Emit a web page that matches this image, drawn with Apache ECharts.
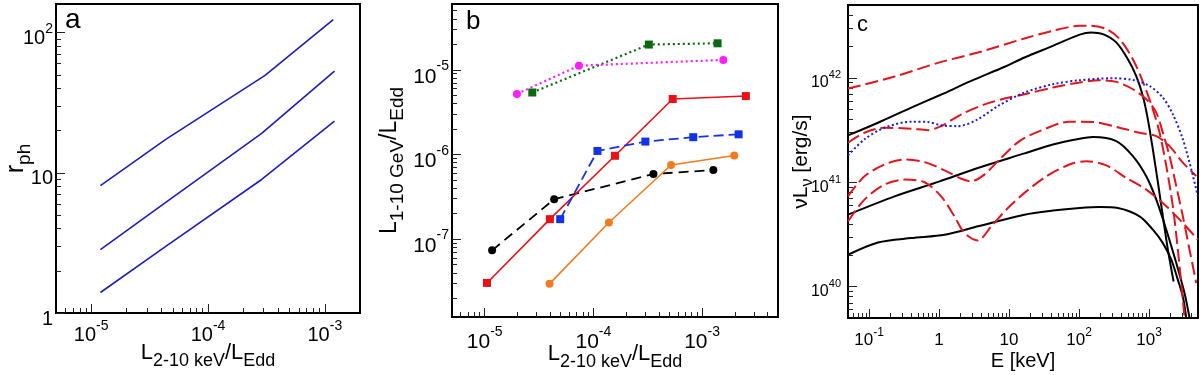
<!DOCTYPE html>
<html>
<head>
<meta charset="utf-8">
<script src="https://cdn.jsdelivr.net/npm/echarts@6/dist/echarts.min.js"></script>
<style>
html, body { margin: 0; padding: 0; background: #fff; }
#main { width: 1200px; height: 375px; }
</style>
</head>
<body>
<div id="main"></div>
<script>
// panel a - photosphere radius vs L(2-10 keV)/LEdd
var aLine1 = [[1.2e-5, 8.1], [4.35e-5, 17.3], [3.08e-4, 49.5], [1.18e-3, 124]];
var aLine2 = [[1.2e-5, 2.83], [4.35e-5, 6.15], [2.88e-4, 19.1], [1.21e-3, 53.2]];
var aLine3 = [[1.2e-5, 1.40], [4.35e-5, 2.99], [2.88e-4, 8.96], [1.21e-3, 23.4]];
var aXTicks = [1e-5, 1e-4, 1e-3];
var aYTicks = [1, 10, 100];

// panel b - gamma-ray vs X-ray luminosity
var bMagenta = [[1.98e-5, 5.2e-6], [7.36e-5, 1.12e-5], [1.57e-3, 1.31e-5]];
var bGreen = [[2.74e-5, 5.4e-6], [3.24e-4, 1.99e-5], [1.39e-3, 2.06e-5]];
var bRed = [[1.05e-5, 3.03e-8], [3.98e-5, 1.72e-7], [1.58e-4, 9.65e-7], [5.37e-4, 4.52e-6], [2.53e-3, 4.9e-6]];
var bBlue = [[4.95e-5, 1.72e-7], [1.09e-4, 1.10e-6], [3.01e-4, 1.42e-6], [8.3e-4, 1.60e-6], [2.17e-3, 1.73e-6]];
var bBlack = [[1.17e-5, 7.36e-8], [4.36e-5, 2.96e-7], [3.57e-4, 5.87e-7], [1.27e-3, 6.55e-7]];
var bOrange = [[3.95e-5, 2.96e-8], [1.39e-4, 1.57e-7], [5.19e-4, 7.5e-7], [1.98e-3, 9.73e-7]];
var bXTicks = [1e-5, 1e-4, 1e-3];
var bYTicks = [1e-7, 1e-6, 1e-5];

// panel c - spectra, E [keV] vs nuL_nu [erg/s]
var cBlack1 = [[0.05, 2.81e41], [0.134, 3.72e41], [0.401, 5.19e41], [1.02, 6.82e41], [2.88, 9.36e41], [8.63, 1.28e42], [16.6, 1.57e42], [42.3, 2.03e42], [102, 2.6e42], [149, 2.73e42], [219, 2.63e42], [340, 2.19e42], [498, 1.51e42], [656, 1.04e42], [815, 6.71e41], [961, 4.01e41], [1133, 2.06e41], [1339, 9.9e40], [1575, 4.7e40], [1858, 2.25e40], [2240, 1.12e40]];
var cBlack2 = [[0.05, 4.89e40], [0.231, 7.33e40], [1.02, 1.02e41], [3.58, 1.37e41], [16.6, 1.89e41], [42.3, 2.3e41], [102, 2.61e41], [157, 2.71e41], [340, 2.48e41], [587, 1.78e41], [912, 1.14e41], [1268, 6.82e40], [1762, 3.51e40], [2447, 1.68e40], [3214, 8.65e39], [3790, 5.0e39]];
var cBlack3 = [[0.05, 2.02e40], [0.134, 2.65e40], [0.401, 2.92e40], [1.2, 3.14e40], [3.58, 3.78e40], [16.6, 4.89e40], [42.3, 5.35e40], [102, 5.67e40], [196, 5.8e40], [358, 5.67e40], [731, 4.71e40], [1133, 3.51e40], [1575, 2.61e40], [2075, 1.81e40], [2579, 1.16e40], [3041, 8.0e39], [3396, 5.0e39]];
var cRed1 = [[0.05, 7.91e41], [0.231, 1.03e42], [1.02, 1.41e42], [3.58, 1.75e42], [16.6, 2.39e42], [42.3, 2.83e42], [102, 3.16e42], [149, 3.16e42], [245, 2.94e42], [379, 2.36e42], [587, 1.51e42], [862, 8.38e41], [1133, 5.0e41], [1414, 2.98e41], [1762, 1.43e41], [2188, 5.88e40], [2579, 2.25e40], [3041, 7.45e39], [3214, 5.0e39]];
var cRed2 = [[0.05, 2.39e41], [0.086, 2.98e41], [0.166, 3.33e41], [0.401, 3.26e41], [0.692, 3.16e41], [1.07, 3.45e41], [2.08, 4.48e41], [4.47, 5.58e41], [8.63, 6.34e41], [16.6, 6.97e41], [42.3, 8.09e41], [102, 9.04e41], [196, 9.5e41], [340, 9.16e41], [587, 7.79e41], [912, 6.24e41], [1268, 4.65e41], [1575, 2.98e41], [1963, 1.78e41], [2447, 9.16e40], [3041, 4.71e40], [3790, 2.25e40], [4722, 1.08e40]];
var cRed3 = [[0.05, 7.33e40], [0.086, 1.14e41], [0.166, 1.48e41], [0.321, 1.65e41], [0.621, 1.56e41], [1.2, 1.30e41], [2.08, 1.08e41], [2.88, 1.02e41], [4.47, 1.19e41], [7.74, 1.72e41], [14.1, 2.48e41], [27.3, 3.09e41], [73.1, 3.81e41], [157, 3.78e41], [379, 3.33e41], [731, 2.98e41], [1268, 2.77e41], [1963, 2.22e41], [3041, 1.54e41], [4722, 1.15e41]];
var cRed4 = [[0.05, 4.22e40], [0.086, 6.82e40], [0.166, 9.5e40], [0.321, 1.06e41], [0.621, 1.0e41], [1.07, 7.33e40], [1.66, 4.71e40], [2.31, 3.26e40], [3.58, 2.77e40], [5.57, 3.78e40], [9.62, 5.67e40], [16.6, 7.91e40], [34, 1.14e41], [73.1, 1.48e41], [127, 1.59e41], [245, 1.45e41], [472, 1.10e41], [912, 8.51e40], [1762, 5.88e40], [3041, 4.07e40], [4977, 2.81e40]];
var cBlue = [[0.05, 1.81e41], [0.086, 2.58e41], [0.166, 3.33e41], [0.401, 3.81e41], [0.692, 3.78e41], [1.07, 3.51e41], [1.86, 3.45e41], [3.58, 4.01e41], [6.92, 5.38e41], [16.6, 7.24e41], [42.3, 8.7e41], [102, 9.5e41], [304, 9.93e41], [587, 9.57e41], [1016, 8.38e41], [1575, 6.48e41], [2188, 4.48e41], [3041, 2.58e41], [4008, 1.33e41], [4977, 7.33e40]];
var cXTicks = [0.1, 1, 10, 100, 1000];
var cYTicks = [1e40, 1e41, 1e42];

var FONT = '"Liberation Sans", Arial, Helvetica, sans-serif';

// 2..9 x 10^n inside the range
function minorTicks(min, max) {
	var out = [];
	var e0 = Math.floor(Math.log10(min)), e1 = Math.ceil(Math.log10(max));
	for (var e = e0; e <= e1; e++) {
		for (var k = 2; k <= 9; k++) {
			var v = k * Math.pow(10, e);
			if (v > min * 1.0001 && v < max * 0.9999) out.push(v);
		}
	}
	return out;
}

function supLabel(v) {
	var e = Math.round(Math.log10(v));
	if (e === 0) return '{b|1}';
	if (e === 1) return '{b|10}';
	return '{b|10}{s|' + e + '}';
}

function labelRich(size) {
	var s = Math.round(size * 0.68);
	return {
		b: {fontFamily: FONT, fontSize: size, lineHeight: size, padding: [Math.round(size * 0.32), 0, 0, 0], verticalAlign: 'top', color: '#000'},
		s: {fontFamily: FONT, fontSize: s, lineHeight: s, verticalAlign: 'top', color: '#000'}
	};
}

function nameRich(size, sub) {
	return {
		m: {fontFamily: FONT, fontSize: size, lineHeight: size, verticalAlign: 'top', color: '#000'},
		s: {fontFamily: FONT, fontSize: sub, lineHeight: sub, padding: [Math.round(size * 0.45), 0, 0, 0], verticalAlign: 'top', color: '#000'}
	};
}

// major axis (labels + long ticks) and a twin for the short minor ticks
function logAxes(p) {
	var major = {
		type: 'log', logBase: 10, gridIndex: p.grid, position: p.pos, min: p.min, max: p.max,
		axisLine: {show: false},
		splitLine: {show: false},
		axisTick: {inside: true, length: 9, customValues: p.ticks, lineStyle: {color: '#222', width: 1}},
		axisLabel: {customValues: p.ticks, formatter: supLabel, margin: p.margin, rich: labelRich(p.size)},
		name: p.name,
		nameLocation: 'middle',
		nameGap: p.gap,
		nameMoveOverlap: false,
		nameTextStyle: {rich: nameRich(p.nameSize, p.subSize)}
	};
	var minor = {
		type: 'log', logBase: 10, gridIndex: p.grid, position: p.pos, min: p.min, max: p.max,
		axisLine: {show: false},
		splitLine: {show: false},
		axisLabel: {show: false},
		axisTick: {inside: true, length: 5, customValues: minorTicks(p.min, p.max), lineStyle: {color: '#222', width: 1}}
	};
	return [major, minor];
}

var xAxes = [].concat(
	logAxes({grid: 0, pos: 'bottom', min: 5e-6, max: 2e-3, ticks: aXTicks, size: 20, margin: 6,
		name: '{m|L}{s|2-10 keV}{m|/L}{s|Edd}', gap: 29, nameSize: 22, subSize: 18}),
	logAxes({grid: 1, pos: 'bottom', min: 5e-6, max: 5e-3, ticks: bXTicks, size: 21, margin: 8,
		name: '{m|L}{s|2-10 keV}{m|/L}{s|Edd}', gap: 26, nameSize: 22, subSize: 18}),
	logAxes({grid: 2, pos: 'bottom', min: 0.05, max: 5000, ticks: cXTicks, size: 17, margin: 9,
		name: '{m|E [keV]}', gap: 33, nameSize: 20, subSize: 16})
);
var yAxes = [].concat(
	logAxes({grid: 0, pos: 'left', min: 1, max: 160, ticks: aYTicks, size: 20, margin: 3,
		name: '{m|r}{s|ph}', gap: 27, nameSize: 25, subSize: 19}),
	logAxes({grid: 1, pos: 'left', min: 1.2e-8, max: 6e-5, ticks: bYTicks, size: 21, margin: 3,
		name: '{m|L}{s|1-10 GeV}{m|/L}{s|Edd}', gap: 51, nameSize: 23, subSize: 19}),
	logAxes({grid: 2, pos: 'left', min: 5e39, max: 5e42, ticks: cYTicks, size: 16, margin: 7,
		name: '{m|\u03bdL}{s|\u03bd}{m| [erg/s]}', gap: 36, nameSize: 21, subSize: 16})
);

function line(data, grid, color, width, dash, smooth) {
	return {
		type: 'line', xAxisIndex: grid * 2, yAxisIndex: grid * 2, data: data,
		showSymbol: false, smooth: smooth || false, animation: false,
		lineStyle: {color: color, width: width, type: dash}
	};
}

function marked(data, color, width, dash, symbol) {
	return {
		type: 'line', xAxisIndex: 2, yAxisIndex: 2, data: data,
		symbol: symbol, symbolSize: 8, showSymbol: true, animation: false,
		itemStyle: {color: color},
		lineStyle: {color: color, width: width, type: dash}
	};
}

var myChart = echarts.init(document.getElementById('main'));
var option = {
	backgroundColor: '#fff',
	animation: false,
	grid: [
		{left: 56, top: 4, width: 304, height: 309, show: true, borderColor: '#000', borderWidth: 2, outerBoundsMode: 'none'},
		{left: 452, top: 4, width: 326, height: 313, show: true, borderColor: '#000', borderWidth: 2, outerBoundsMode: 'none'},
		{left: 848, top: 5, width: 350, height: 313, show: true, borderColor: '#000', borderWidth: 2, outerBoundsMode: 'none'}
	],
	xAxis: xAxes,
	yAxis: yAxes,
	graphic: [
		{type: 'text', left: 65, top: 6, style: {text: 'a', font: '28px ' + FONT, fill: '#000'}},
		{type: 'text', left: 466, top: 9, style: {text: 'b', font: '26px ' + FONT, fill: '#000'}},
		{type: 'text', left: 857, top: 14, style: {text: 'c', font: '22px ' + FONT, fill: '#000'}}
	],
	series: [
		line(aLine1, 0, '#1c1cc4', 1.6, 'solid'),
		line(aLine2, 0, '#1c1cc4', 1.6, 'solid'),
		line(aLine3, 0, '#1c1cc4', 1.6, 'solid'),

		marked(bBlack, '#000', 1.8, [10, 6], 'circle'),
		marked(bOrange, '#f47a1e', 1.6, 'solid', 'circle'),
		marked(bRed, '#ec1016', 1.6, 'solid', 'rect'),
		marked(bBlue, '#1232ea', 1.8, [10, 5], 'rect'),
		marked(bGreen, '#0b6a10', 2.2, [2, 3], 'rect'),
		marked(bMagenta, '#ff1cff', 2.2, [2, 3], 'circle'),

		line(cBlack1, 2, '#000', 2, 'solid', 0.3),
		line(cBlack2, 2, '#000', 2, 'solid', 0.3),
		line(cBlack3, 2, '#000', 2, 'solid', 0.3),
		line(cRed1, 2, '#e4141c', 2, [13, 5], 0.3),
		line(cRed2, 2, '#e4141c', 2, [13, 5], 0.3),
		line(cRed3, 2, '#e4141c', 2, [13, 5], 0.3),
		line(cRed4, 2, '#e4141c', 2, [13, 5], 0.3),
		line(cBlue, 2, '#1a1adb', 2, [2, 2.5], 0.3)
	]
};
myChart.setOption(option);
</script>
</body>
</html>
